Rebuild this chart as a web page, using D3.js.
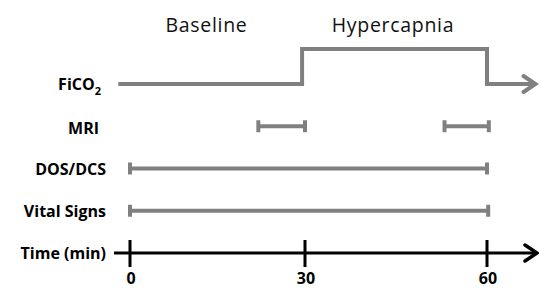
<!DOCTYPE html>
<html>
<head>
<meta charset="utf-8">
<script src="https://cdn.jsdelivr.net/npm/d3@7"></script>
<style>
  body { margin: 0; background: #fff; }
  svg { display: block; }
</style>
</head>
<body>
<div id="chart"></div>
<script>
// phases (minutes)
const phases = ["Baseline", "Hypercapnia"];
const phaseBounds = [[0, 30], [30, 60]];

// rows
const rows = ["FiCO2", "MRI", "DOS/DCS", "Vital Signs", "Time (min)"];

// FiCO2 step : [minute, level]
const fico2 = [[-2, 0], [29.5, 0], [29.5, 1], [60, 1], [60, 0], [68, 0]];

// measurement intervals
const mri = [[22, 30], [53, 60.3]];
const dosdcs = [[0, 60]];
const vitals = [[0, 60.2]];

const tickValues = [0, 30, 60];

const width = 539, height = 289;
const grey = "#808080";

const svg = d3.select("#chart").append("svg")
  .attr("width", width)
  .attr("height", height);

// time scale (slightly uneven in the original drawing)
const x = d3.scaleLinear().domain([0, 30, 60]).range([130, 305, 487]);
const y = d3.scalePoint().domain(rows).range([84, 253]);

const font = "'Open Sans', Lato, sans-serif";

// phase titles
svg.selectAll(".phase")
  .data(phases)
  .enter().append("text")
  .attr("x", (d, i) => x((phaseBounds[i][0] + phaseBounds[i][1]) / 2) + (i == 0 ? -11 : -3))
  .attr("y", 32)
  .attr("text-anchor", "middle")
  .style("font-family", font)
  .style("font-size", "19.5px")
  .style("letter-spacing", "0.7px")
  .attr("fill", "#111")
  .text(d => d);

// row labels
const labels = svg.selectAll(".label")
  .data(rows)
  .enter().append("text")
  .attr("x", d => d == "FiCO2" ? 101 : d == "MRI" ? 99 : 106)
  .attr("y", d => y(d) + (d == "MRI" ? 8 : 6))
  .attr("text-anchor", "end")
  .style("font-family", font)
  .style("font-size", "16px")
  .style("font-weight", "bold")
  .attr("fill", "#000");

labels.each(function(d) {
  const t = d3.select(this);
  if (d == "FiCO2") {
    t.append("tspan").text("FiCO");
    t.append("tspan").attr("dy", 5).style("font-size", "11px").text("2");
  } else {
    t.text(d);
  }
});

// FiCO2 step line
const yLevel = d3.scaleLinear().domain([0, 1]).range([y("FiCO2"), 49]);
const line = d3.line().x(d => x(d[0])).y(d => yLevel(d[1])).curve(d3.curveLinear);

svg.append("path")
  .attr("d", line(fico2))
  .attr("fill", "none")
  .attr("stroke", grey)
  .attr("stroke-width", 4);

// open arrow head
function arrow(xEnd, yc, color, w) {
  svg.append("path")
    .attr("d", `M${xEnd - 12},${yc - 8} L${xEnd},${yc} L${xEnd - 12},${yc + 8}`)
    .attr("fill", "none")
    .attr("stroke", color)
    .attr("stroke-width", w)
    .attr("stroke-linecap", "round")
    .attr("stroke-linejoin", "miter");
}
arrow(x(68) > 536 ? 536 : x(68), y("FiCO2"), grey, 4);

// interval bars with end caps
function intervals(data, row) {
  const g = svg.append("g");
  const yc = y(row);
  g.selectAll("line.bar")
    .data(data)
    .enter().append("line")
    .attr("x1", d => x(d[0]))
    .attr("x2", d => x(d[1]))
    .attr("y1", yc).attr("y2", yc)
    .attr("stroke", grey)
    .attr("stroke-width", 4);
  const caps = data.flatMap(d => [d[0], d[1]]);
  g.selectAll("line.cap")
    .data(caps)
    .enter().append("line")
    .attr("x1", d => x(d)).attr("x2", d => x(d))
    .attr("y1", yc - 6).attr("y2", yc + 6)
    .attr("stroke", grey)
    .attr("stroke-width", 4);
}
intervals(mri, "MRI");
intervals(dosdcs, "DOS/DCS");
intervals(vitals, "Vital Signs");

// time axis
const ya = y("Time (min)");
svg.append("line")
  .attr("x1", 114).attr("x2", 536)
  .attr("y1", ya).attr("y2", ya)
  .attr("stroke", "#000")
  .attr("stroke-width", 3);
arrow(537, ya, "#000", 3.5);

svg.selectAll(".tick")
  .data(tickValues)
  .enter().append("line")
  .attr("x1", d => x(d)).attr("x2", d => x(d))
  .attr("y1", ya - 13).attr("y2", ya + 14)
  .attr("stroke", "#000")
  .attr("stroke-width", 3);

svg.selectAll(".ticklabel")
  .data(tickValues)
  .enter().append("text")
  .attr("x", d => x(d) + 1)
  .attr("y", 284)
  .attr("text-anchor", "middle")
  .style("font-family", font)
  .style("font-size", "16px")
  .style("font-weight", "bold")
  .text(d => d);
</script>
</body>
</html>
